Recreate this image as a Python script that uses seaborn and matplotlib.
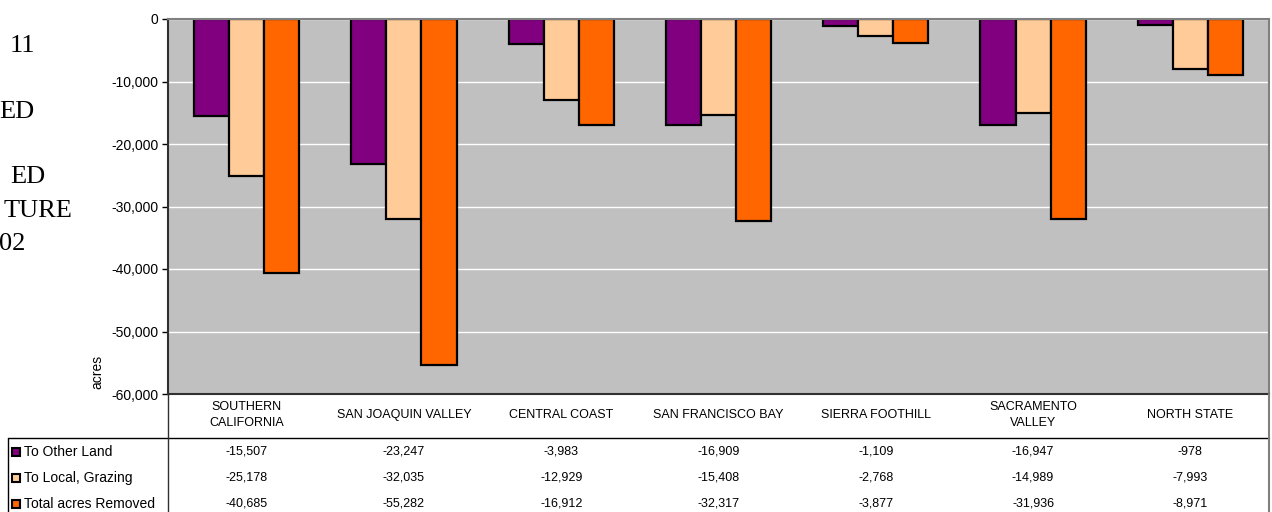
import pandas as pd
import matplotlib
matplotlib.use("Agg")
import matplotlib.pyplot as plt
import matplotlib.transforms as mtransforms
from matplotlib import font_manager
from matplotlib.patches import Rectangle
from matplotlib.lines import Line2D
import seaborn as sns

# Data
regions = [
    "SOUTHERN\nCALIFORNIA",
    "SAN JOAQUIN VALLEY",
    "CENTRAL COAST",
    "SAN FRANCISCO BAY",
    "SIERRA FOOTHILL",
    "SACRAMENTO\nVALLEY",
    "NORTH STATE",
]
series_names = ["To Other Land", "To Local, Grazing", "Total acres Removed"]
to_other_land = [-15507, -23247, -3983, -16909, -1109, -16947, -978]
to_local_grazing = [-25178, -32035, -12929, -15408, -2768, -14989, -7993]
total_removed = [-40685, -55282, -16912, -32317, -3877, -31936, -8971]
y_ticks = [0, -10000, -20000, -30000, -40000, -50000, -60000]

# cut-off caption fragments on the left edge
title_bits = ["11", "ED", "ED", "TURE", "02"]

colors = ["#800080", "#FFCC99", "#FF6600"]

W, H = 1272, 512


def fx(px):
    return px / W


def fy(py):
    return 1 - py / H


sns.set_theme(style="white")
plt.rcParams["font.family"] = ["Liberation Sans", "DejaVu Sans"]

# table cells look like a narrow Arial; use Liberation Sans Narrow if present
installed = {f.name for f in font_manager.fontManager.ttflist}
if "Liberation Sans Narrow" in installed:
    cell_font = ["Liberation Sans Narrow", "DejaVu Sans"]
    cell_size = 10
else:
    cell_font = ["Liberation Sans", "DejaVu Sans"]
    cell_size = 9

rows = []
for name, vals in zip(series_names, [to_other_land, to_local_grazing, total_removed]):
    for reg, v in zip(regions, vals):
        rows.append({"region": reg, "series": name, "acres": v})
df = pd.DataFrame(rows)

fig = plt.figure(figsize=(W / 100, H / 100), dpi=100)
fig.patch.set_facecolor("white")
ax = fig.add_axes([fx(168), fy(394), fx(1269) - fx(168), fy(19) - fy(394)])
ax.set_facecolor("#C0C0C0")
ax.set_axisbelow(True)
ax.yaxis.grid(True, color="white", linewidth=1)

sns.barplot(
    data=df, x="region", y="acres", hue="series",
    order=regions, hue_order=series_names, palette=colors,
    saturation=1, width=0.67, errorbar=None,
    edgecolor="black", linewidth=1.6, legend=False, ax=ax,
)

ax.set_xlim(-0.5, len(regions) - 0.5)
ax.set_ylim(-60000, 0)
ax.set_yticks(y_ticks)
ax.set_yticklabels([f"{v:,}" for v in y_ticks])
ax.tick_params(axis="y", left=True, length=4, width=1, color="black",
               labelsize=10, pad=3, labelcolor="black")
ax.set_xticks([])
ax.set_xlabel("")
ax.set_ylabel("")

for side in ["left", "bottom"]:
    ax.spines[side].set_color("#303030")
    ax.spines[side].set_linewidth(1.5)
for side in ["top", "right"]:
    ax.spines[side].set_color("#808080")
    ax.spines[side].set_linewidth(1.5)

fig.text(fx(97), fy(372), "acres", rotation=90, ha="center", va="center",
         fontsize=10, color="black")

# data table under the plot
trans = mtransforms.blended_transform_factory(ax.transData, fig.transFigure)
for i, reg in enumerate(regions):
    ax.text(i, fy(415), reg, transform=trans, ha="center", va="center",
            fontsize=cell_size, family=cell_font, linespacing=1.45,
            color="black")

row_y = [452, 478, 504]
for vals, y in zip([to_other_land, to_local_grazing, total_removed], row_y):
    for i, v in enumerate(vals):
        ax.text(i, fy(y), f"{v:,}", transform=trans, ha="center", va="center",
                fontsize=cell_size, family=cell_font, color="black")

for name, col, y in zip(series_names, colors, row_y):
    fig.add_artist(Rectangle((fx(12), fy(y + 4)), 8 / W, 8 / H,
                             facecolor=col, edgecolor="black", linewidth=1.5,
                             transform=fig.transFigure))
    fig.text(fx(24), fy(y), name, ha="left", va="center", fontsize=10,
             color="black")

fig.add_artist(Line2D([fx(8), fx(1269)], [fy(438), fy(438)],
                      color="black", linewidth=1, transform=fig.transFigure))
fig.add_artist(Line2D([fx(8), fx(8)], [fy(438), fy(512)],
                      color="black", linewidth=1, transform=fig.transFigure))
fig.add_artist(Line2D([fx(168), fx(168)], [fy(394), fy(512)],
                      color="#303030", linewidth=1, transform=fig.transFigure))
fig.add_artist(Line2D([fx(1269), fx(1269)], [fy(394), fy(512)],
                      color="#808080", linewidth=1.5, transform=fig.transFigure))

# caption fragments (cut off at the left edge)
caption_pos = [(35, 46), (34, 112), (45, 177), (72, 211), (25, 244)]
for txt, (x, y) in zip(title_bits, caption_pos):
    fig.text(fx(x), fy(y), txt, ha="right", va="center", fontsize=19,
             family=["Liberation Serif", "DejaVu Serif"], color="black")

fig.savefig("out.png", dpi=100)
